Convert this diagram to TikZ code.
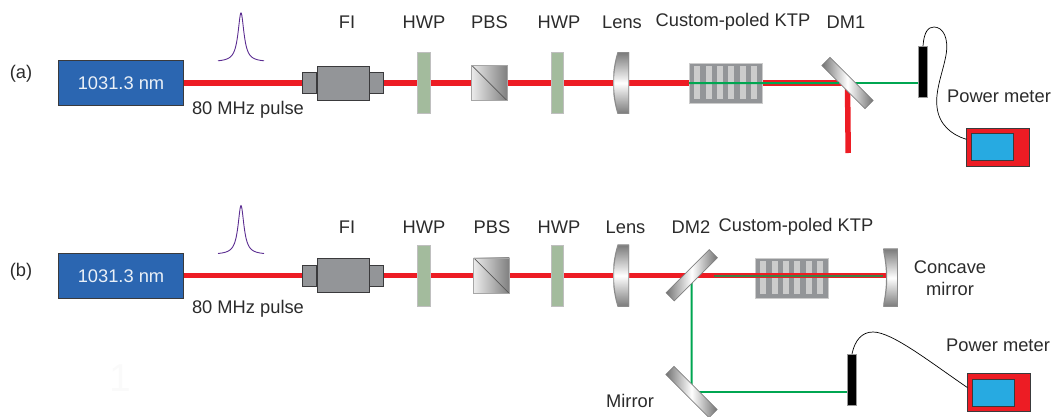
\documentclass[tikz,border=0pt]{standalone}
\usepackage{fontspec}
\setmainfont{Liberation Sans}
\usetikzlibrary{backgrounds}
\definecolor{BeamRed}{HTML}{ED1C24}
\definecolor{BeamGreen}{HTML}{00A651}
\definecolor{MixGreen}{HTML}{3F7F45}
\definecolor{LaserBlue}{HTML}{2B66B1}
\definecolor{PlateGreen}{HTML}{A3BB9D}
\definecolor{BoxGrey}{HTML}{939598}
\definecolor{EdgeGrey}{HTML}{3A3A3C}
\definecolor{ScreenBlue}{HTML}{27AAE1}
\definecolor{TextGrey}{HTML}{2B2B2B}
\definecolor{PulseViolet}{HTML}{5B2C91}
\tikzset{Label/.style={inner sep=0pt,text=TextGrey,font=\fontsize{18.3}{22}\selectfont,align=center}}
\tikzset{Laser/.style={draw=EdgeGrey,fill=LaserBlue,line width=0.8pt,minimum width=125pt,minimum height=45pt,inner sep=0pt,text=white!90!LaserBlue,font=\fontsize{18.3}{22}\selectfont}}
\tikzset{FiBody/.style={draw=EdgeGrey,fill=BoxGrey,line width=0.9pt,minimum width=52pt,minimum height=34pt,inner sep=0pt}}
\tikzset{FiEnd/.style={draw=EdgeGrey,fill=BoxGrey,line width=0.9pt,minimum width=13.5pt,minimum height=20.5pt,inner sep=0pt}}
\tikzset{Hwp/.style={draw=black!25,fill=PlateGreen,line width=0.6pt,minimum width=12.5pt,minimum height=61.5pt,inner sep=0pt}}
\tikzset{Pbs/.style={draw=black!35,line width=0.8pt,minimum size=35.5pt,inner sep=0pt,left color=black!8,right color=black!50,
  path picture={\draw[black!65,line width=0.7pt] (path picture bounding box.north west) -- (path picture bounding box.south east);}}}
\tikzset{Lens/.style={minimum width=15.7pt,minimum height=61.5pt,inner sep=0pt,
  path picture={\shadedraw[draw=black!45,line width=1.2pt,top color=black!52,bottom color=black!52,middle color=white]
    (path picture bounding box.north east) -- (path picture bounding box.south east) -- ([xshift=4.7pt]path picture bounding box.south west)
    .. controls ([xshift=-1.5pt,yshift=20pt]path picture bounding box.south west) and ([xshift=-1.5pt,yshift=-20pt]path picture bounding box.north west) .. ([xshift=4.7pt]path picture bounding box.north west) -- cycle;}}}
\tikzset{ConcaveMirror/.style={minimum width=14.5pt,minimum height=57.7pt,inner sep=0pt,
  path picture={\shadedraw[draw=black!45,line width=1.2pt,top color=black!52,bottom color=black!52,middle color=white]
    (path picture bounding box.north east) -- (path picture bounding box.south east) -- (path picture bounding box.south west)
    .. controls ([xshift=4.5pt,yshift=20pt]path picture bounding box.south west) and ([xshift=4.5pt,yshift=-20pt]path picture bounding box.north west) .. (path picture bounding box.north west) -- cycle;}}}
\tikzset{Ktp/.style={fill=BoxGrey,draw=black!20,line width=0.4pt,minimum width=73pt,minimum height=40pt,inner sep=0pt,
  path picture={\foreach \s in {5,16.5,28,39,50.5,62}{\fill[black!20] ([xshift=\s pt,yshift=4pt]path picture bounding box.south west) rectangle ++(6,-33);}}}}
\tikzset{Dichro/.style={draw=black!50,line width=0.7pt,minimum width=61pt,minimum height=11.5pt,inner sep=0pt,left color=black!55,right color=black!55,middle color=white}}
\tikzset{Detector/.style={draw=black!40,fill=black,line width=0.4pt,minimum width=9pt,minimum height=51pt,inner sep=0pt}}
\tikzset{Meter/.style={draw=EdgeGrey,fill=BeamRed,line width=0.9pt,minimum width=62.5pt,minimum height=38.5pt,inner sep=0pt}}
\tikzset{Screen/.style={draw=EdgeGrey,fill=ScreenBlue,line width=0.9pt,minimum width=42pt,minimum height=27pt,inner sep=0pt}}
\tikzset{RedBeam/.style={BeamRed,line width=5.5pt}}
\tikzset{GreenBeam/.style={BeamGreen,line width=2pt}}
\tikzset{MixBeam/.style={MixGreen,line width=2.4pt}}
\tikzset{Cable/.style={black,line width=0.7pt}}
\tikzset{Pulse/.style={inner sep=0pt,minimum width=46pt,minimum height=49.5pt}}
\tikzset{PulseLine/.style={PulseViolet,line width=0.9pt}}

\begin{document}
\begin{tikzpicture}[x=1pt,y=-1pt]
\useasboundingbox (0,0) rectangle (1053,416);

% setup (a)
\node[Label] (tagA) at (21,73.5) {(a)};
\node[Laser] (laserA) at (121,83) {1031.3 nm\hspace{4pt}};
\node[Pulse] (pulseA) at (241,37) {};
\node[Label] (repA) at (248,110) {80 MHz pulse};
\node[FiBody] (fiA) at (343,83) {};
\node[FiEnd,anchor=east] (fiInA) at (fiA.west) {};
\node[FiEnd,anchor=west] (fiOutA) at (fiA.east) {};
\node[Hwp] (hwpOneA) at (423.8,83) {};
\node[Pbs] (pbsA) at (489.3,83) {};
\node[Hwp] (hwpTwoA) at (557.2,83) {};
\node[Lens] (lensA) at (621.2,83) {};
\node[Ktp] (ktpA) at (725.5,83) {};
\node[Dichro,rotate=-45] (dmA) at (847.5,83) {};
\node[Detector] (detA) at (923,71.7) {};
\node[Meter] (meterA) at (998,147.3) {};
\node[Screen,anchor=west,xshift=4.5pt] (screenA) at (meterA.west) {};
\coordinate (dumpA) at (848.2,153);

\node[Label] (fiLabelA) at (347,22) {FI};
\node[Label] (hwpLabelA) at (424,22) {HWP};
\node[Label] (pbsLabelA) at (489.5,22) {PBS};
\node[Label] (hwpLabelB) at (559,22) {HWP};
\node[Label] (lensLabelA) at (622,22) {Lens};
\node[Label] (ktpLabelA) at (733,22) {Custom-poled KTP};
\node[Label] (dmLabelA) at (846,22) {DM1};
\node[Label] (meterLabelA) at (999,96) {Power meter};

% setup (b)
\node[Label] (tagB) at (21,272) {(b)};
\node[Laser] (laserB) at (121,275.7) {1031.3 nm\hspace{4pt}};
\node[Pulse] (pulseB) at (241,229.7) {};
\node[Label] (repB) at (248,309) {80 MHz pulse};
\node[FiBody] (fiB) at (343,275.7) {};
\node[FiEnd,anchor=east] (fiInB) at (fiB.west) {};
\node[FiEnd,anchor=west] (fiOutB) at (fiB.east) {};
\node[Hwp] (hwpOneB) at (423.8,275.7) {};
\node[Pbs] (pbsB) at (491.5,275.7) {};
\node[Hwp] (hwpTwoB) at (557.2,275.7) {};
\node[Lens] (lensB) at (621.2,275.7) {};
\node[Dichro,rotate=45] (dmB) at (691.7,275.2) {};
\node[Ktp] (ktpB) at (791.8,277.7) {};
\node[ConcaveMirror] (cmB) at (890.5,277.8) {};
\node[Dichro,rotate=-45] (mirrorB) at (691.5,392.1) {};
\node[Detector] (detB) at (852,379.5) {};
\node[Meter] (meterB) at (999,392.5) {};
\node[Screen,anchor=west,xshift=4.5pt] (screenB) at (meterB.west) {};

\node[Label] (fiLabelB) at (347,227) {FI};
\node[Label] (hwpLabelC) at (424,227) {HWP};
\node[Label] (pbsLabelB) at (492,227) {PBS};
\node[Label] (hwpLabelD) at (559,227) {HWP};
\node[Label] (lensLabelB) at (625.5,227) {Lens};
\node[Label] (dmLabelB) at (691,227) {DM2};
\node[Label] (ktpLabelB) at (796,227) {Custom-poled KTP};
\node[Label] (cmLabelB) at (950,278) {Concave\\mirror};
\node[Label] (meterLabelB) at (998,345) {Power meter};
\node[Label] (mirrorLabelB) at (630,401) {Mirror};
\node[Label,text=black!2,font=\fontsize{39}{39}\selectfont] (markB) at (120,378) {1};

\foreach \p in {pulseA,pulseB}{
  \draw[PulseLine,shift={(\p.south)}] plot[domain=-23:23,samples=121,smooth] (\x,{-49/(1+(\x/3.6)^2)});
}

\begin{scope}[on background layer]
\draw[RedBeam] (laserA.east) -- (dmA.center);
\draw[RedBeam] (dmA.center) -- (dumpA);
\draw[RedBeam] (laserB.east) -- (cmB.center |- laserB.east);
\draw[GreenBeam] (dmB.center) -- (mirrorB.center);
\draw[GreenBeam] (mirrorB.center) -- (detB.west |- mirrorB.center);
\draw[GreenBeam] (dmA.center) -- (detA.west |- dmA.center);
\end{scope}
\draw[GreenBeam] (ktpA.west |- dmA.center) -- (dmA);
\draw[RedBeam] (ktpB.west |- laserB.east) -- (ktpB.east |- laserB.east);
\draw[MixBeam] (dmB.east |- laserB.east) -- (cmB.west |- laserB.east);

\draw[Cable] (detA.north) .. controls (924,32) and (928,27) .. (934,27) .. controls (943,27) and (949,38) .. (946,55) .. controls (943,72) and (935,90) .. (937,107) .. controls (939,125) and (952,135) .. ([yshift=8pt]meterA.west);
\draw[Cable] (detB.north) .. controls (855,340) and (862,332) .. (873,332) .. controls (892,332) and (930,362) .. ([yshift=5pt]meterB.west);
\end{tikzpicture}
\end{document}
